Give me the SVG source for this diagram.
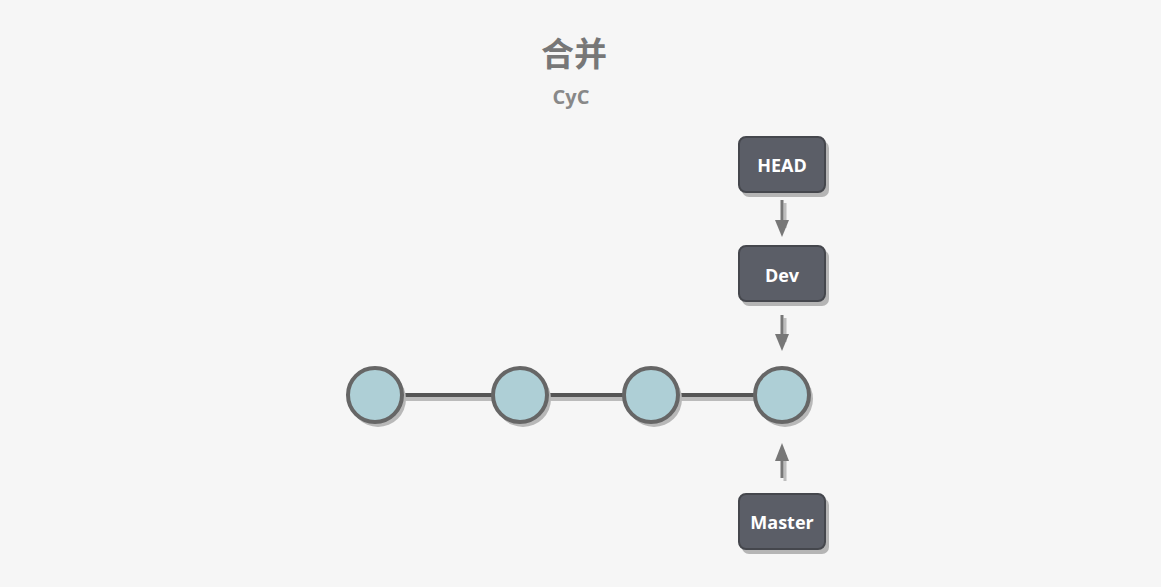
<svg xmlns="http://www.w3.org/2000/svg" width="1161" height="587" viewBox="0 0 1161 587">
<style>
.box{fill:#5b5e67;stroke:#45474d;stroke-width:2}
.bsh{fill:#b5b5b5}
.lbl{font-family:"Open Sans","Noto Sans",sans-serif;font-weight:bold;font-size:18px;fill:#ffffff;text-anchor:middle}
.node{fill:#aecfd6;stroke:#666666;stroke-width:4}
.nsh{fill:#b8b8b8}
.edge{stroke:#555555;stroke-width:4}
.esh{stroke:#bbbbbb;stroke-width:4}
.arr{stroke:#777777;stroke-width:3;fill:none}
.ash{stroke:#bdbdbd;stroke-width:3;fill:none}
</style>
<rect width="1161" height="587" fill="#f6f6f6"/>
<text x="574" y="66" font-family="'Noto Sans CJK SC',sans-serif" font-weight="bold" font-size="33" fill="#777777" text-anchor="middle">合并</text>
<text x="571" y="104" font-family="'Open Sans','Noto Sans',sans-serif" font-weight="bold" font-size="20" fill="#888888" text-anchor="middle">CyC</text>
<g id="connectors">
<line class="esh" x1="378" y1="399" x2="785" y2="399"/>
<line class="edge" x1="375" y1="395" x2="782" y2="395"/>
<line class="ash" x1="785" y1="203" x2="785" y2="228"/>
<path class="arr" d="M782,200 L782,226"/>
<path d="M775,220 L782,237 L789,220 Z" fill="#777777"/>
<line class="ash" x1="785" y1="318" x2="785" y2="342"/>
<path class="arr" d="M782,315 L782,340"/>
<path d="M775,334 L782,351 L789,334 Z" fill="#777777"/>
<line class="ash" x1="785" y1="455" x2="785" y2="481"/>
<path class="arr" d="M782,457 L782,478"/>
<path d="M775,461 L782,443 L789,461 Z" fill="#777777"/>
</g>
<g id="c1"><circle class="nsh" cx="378" cy="399" r="28"/><circle class="node" cx="375" cy="395" r="27"/></g>
<g id="c2"><circle class="nsh" cx="523" cy="399" r="28"/><circle class="node" cx="520" cy="395" r="27"/></g>
<g id="c3"><circle class="nsh" cx="654" cy="399" r="28"/><circle class="node" cx="651" cy="395" r="27"/></g>
<g id="c4"><circle class="nsh" cx="785" cy="399" r="28"/><circle class="node" cx="782" cy="395" r="27"/></g>
<g id="head"><rect class="bsh" x="742" y="141" width="87" height="56" rx="7"/><rect class="box" x="739" y="137" width="86" height="55" rx="7"/><text class="lbl" x="782" y="172">HEAD</text></g>
<g id="dev"><rect class="bsh" x="742" y="250" width="87" height="56" rx="7"/><rect class="box" x="739" y="246" width="86" height="55" rx="7"/><text class="lbl" x="782" y="282">Dev</text></g>
<g id="master"><rect class="bsh" x="742" y="498" width="87" height="56" rx="7"/><rect class="box" x="739" y="494" width="86" height="55" rx="7"/><text class="lbl" x="782" y="529">Master</text></g>
</svg>
